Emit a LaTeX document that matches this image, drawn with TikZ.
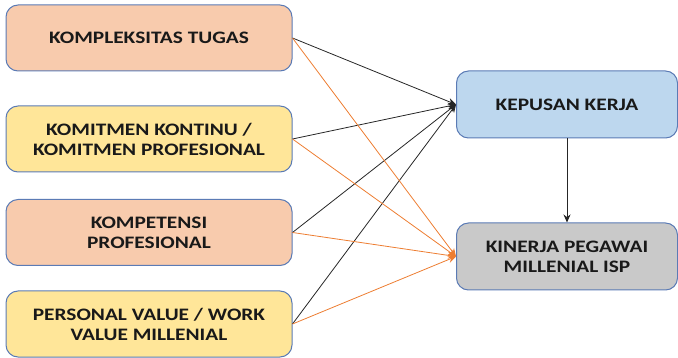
\documentclass[tikz,border=0pt]{standalone}
\usepackage{fontspec}
\setmainfont{Carlito}[FakeStretch=1.22]
\usetikzlibrary{arrows.meta}
\definecolor{peach}{HTML}{F8CBAD}
\definecolor{paleyellow}{HTML}{FFE699}
\definecolor{paleblue}{HTML}{BDD7EE}
\definecolor{palegray}{HTML}{C9C9C9}
\definecolor{edgeblue}{HTML}{5B7BB5}
\definecolor{linkorange}{HTML}{ED7D31}
\tikzset{
  box/.style={draw=edgeblue, line width=1pt, rounded corners=12pt, align=center,
    font=\bfseries\fontsize{17.5}{20}\selectfont, text=black!90, inner sep=0pt},
  leftbox/.style={box, minimum width=286pt, minimum height=66pt},
  rightbox/.style={box, minimum width=221pt, minimum height=67pt},
  blacklink/.style={draw=black!85, line width=0.8pt, -{Stealth[length=8pt,width=7pt]}},
  orangelink/.style={draw=linkorange, line width=0.8pt, -{Stealth[length=8pt,width=7pt]}}
}
\begin{document}
\begin{tikzpicture}[x=1pt, y=-1pt]
\useasboundingbox (0,0) rectangle (678,358);
% predictor boxes
\node[leftbox, fill=peach] (kt) at (149,38) {KOMPLEKSITAS TUGAS};
\node[leftbox, fill=paleyellow] (kk) at (149,139) {KOMITMEN KONTINU /\\KOMITMEN PROFESIONAL};
\node[leftbox, fill=peach] (kp) at (149,232.5) {KOMPETENSI\\PROFESIONAL};
\node[leftbox, fill=paleyellow] (pv) at (149,324) {PERSONAL VALUE / WORK\\VALUE MILLENIAL};
% outcome boxes
\node[rightbox, fill=paleblue] (kep) at (567,104.5) {KEPUSAN KERJA};
\node[rightbox, fill=palegray] (kin) at (567,256.5) {KINERJA PEGAWAI\\MILLENIAL ISP};
% links to job satisfaction
\foreach \src in {kt,kk,kp,pv}
  \draw[blacklink] (\src.east) -- (kep.west);
% links to performance
\foreach \src in {kt,kk,kp,pv}
  \draw[orangelink] (\src.east) -- (kin.west);
% satisfaction to performance
\draw[blacklink] (kep.south) -- (kin.north);
\end{tikzpicture}
\end{document}
